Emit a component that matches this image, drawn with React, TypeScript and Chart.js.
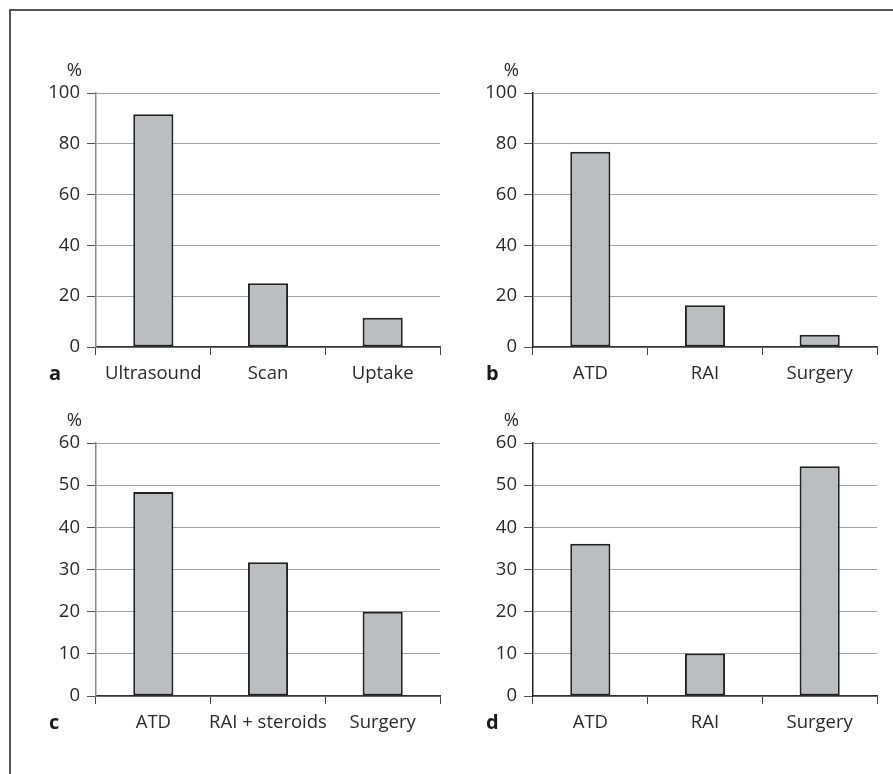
import React, { useEffect, useRef } from 'react';
import { Chart, registerables } from 'chart.js';

Chart.register(...registerables);

// ---- data ----
const categoriesA = ['Ultrasound', 'Scan', 'Uptake'];
const valuesA = [91.6, 25.1, 11.5];

const categoriesB = ['ATD', 'RAI', 'Surgery'];
const valuesB = [76.9, 16.4, 4.8];

const categoriesC = ['ATD', 'RAI + steroids', 'Surgery'];
const valuesC = [48.4, 31.7, 20.0];

const categoriesD = ['ATD', 'RAI', 'Surgery'];
const valuesD = [36.1, 10.1, 54.5];

const yMaxTop = 100;
const yStepTop = 20;
const yMaxBottom = 60;
const yStepBottom = 10;

const panelLetters = ['a', 'b', 'c', 'd'];
const unitLabel = '%';

const FONT = "'Open Sans', 'Noto Sans', sans-serif";
const FONT_SIZE = 18.5;

type Panel = {
  letter: string;
  cats: string[];
  vals: number[];
  max: number;
  step: number;
  left: number;
  top: number;
  w: number;
  h: number;
  yWidth: number;
  padTop: number;
  padRight: number;
  xHeight: number;
  yBorder: string;
};

const panels: Panel[] = [
  { letter: panelLetters[0], cats: categoriesA, vals: valuesA, max: yMaxTop, step: yStepTop,
    left: 0, top: 0, w: 446, h: 387, yWidth: 96, padTop: 93, padRight: 6, xHeight: 40, yBorder: '#8a8a8a' },
  { letter: panelLetters[1], cats: categoriesB, vals: valuesB, max: yMaxTop, step: yStepTop,
    left: 446, top: 0, w: 447, h: 387, yWidth: 87, padTop: 93, padRight: 16, xHeight: 40, yBorder: '#222' },
  { letter: panelLetters[2], cats: categoriesC, vals: valuesC, max: yMaxBottom, step: yStepBottom,
    left: 0, top: 387, w: 446, h: 387, yWidth: 96, padTop: 56, padRight: 6, xHeight: 78, yBorder: '#8a8a8a' },
  { letter: panelLetters[3], cats: categoriesD, vals: valuesD, max: yMaxBottom, step: yStepBottom,
    left: 446, top: 387, w: 447, h: 387, yWidth: 87, padTop: 56, padRight: 16, xHeight: 78, yBorder: '#222' },
];

const labelsPlugin = {
  id: 'panelLabels',
  afterDraw(chart: any, _args: any, opts: any) {
    const { ctx, chartArea } = chart;
    ctx.save();
    ctx.fillStyle = '#2a2a2a';
    ctx.font = `${FONT_SIZE}px ${FONT}`;
    ctx.textAlign = 'right';
    ctx.textBaseline = 'alphabetic';
    ctx.fillText(unitLabel, chartArea.left - 14, chartArea.top - 17);
    ctx.font = `bold 20px ${FONT}`;
    ctx.textAlign = 'left';
    ctx.fillStyle = '#1a1a1a';
    ctx.fillText(opts.letter, chartArea.left - 47, chartArea.bottom + 33);
    ctx.restore();
  },
};

function PanelChart({ p }: { p: Panel }) {
  const ref = useRef<HTMLCanvasElement | null>(null);
  useEffect(() => {
    if (!ref.current) return;
    const chart = new Chart(ref.current, {
      type: 'bar',
      data: {
        labels: p.cats,
        datasets: [
          {
            data: p.vals,
            backgroundColor: '#bcbdc1',
            borderColor: '#222',
            borderWidth: 2,
            borderSkipped: false,
            categoryPercentage: 1,
            barPercentage: 0.35,
          },
        ],
      },
      options: {
        animation: false,
        responsive: false,
        devicePixelRatio: 1,
        layout: { padding: { top: p.padTop, right: p.padRight, left: 0, bottom: 0 } },
        plugins: {
          legend: { display: false },
          tooltip: { enabled: false },
          panelLabels: { letter: p.letter },
        } as any,
        scales: {
          x: {
            grid: {
              display: true,
              drawOnChartArea: false,
              drawTicks: true,
              tickLength: 8,
              color: '#444',
              offset: true,
            },
            border: { display: true, color: '#333', width: 1.5 },
            ticks: {
              color: '#2a2a2a',
              font: { family: FONT, size: FONT_SIZE },
              padding: 8,
              maxRotation: 0,
              autoSkip: false,
            },
            afterFit(scale: any) {
              scale.height = p.xHeight;
            },
          },
          y: {
            min: 0,
            max: p.max,
            grid: {
              color: '#a3a3a3',
              lineWidth: 1,
              drawTicks: true,
              tickLength: 9,
              tickColor: '#555',
            },
            border: { display: true, color: p.yBorder, width: 1.5 },
            ticks: {
              stepSize: p.step,
              color: '#2a2a2a',
              font: { family: FONT, size: FONT_SIZE },
              padding: 7,
            },
            afterFit(scale: any) {
              scale.width = p.yWidth;
            },
          },
        },
      },
      plugins: [labelsPlugin],
    });
    return () => chart.destroy();
  }, [p]);
  return (
    <canvas
      ref={ref}
      width={p.w}
      height={p.h}
      style={{ position: 'absolute', left: p.left, top: p.top, width: p.w, height: p.h }}
    />
  );
}

export default function App() {
  return (
    <div style={{ position: 'fixed', left: 0, top: 0, width: 893, height: 774, background: '#fff', overflow: 'hidden' }}>
      <div style={{ position: 'absolute', left: 9, top: 9, width: 884, height: 2, background: '#555' }} />
      <div style={{ position: 'absolute', left: 9, top: 9, width: 2, height: 765, background: '#555' }} />
      {panels.map((p) => (
        <PanelChart key={p.letter} p={p} />
      ))}
    </div>
  );
}
